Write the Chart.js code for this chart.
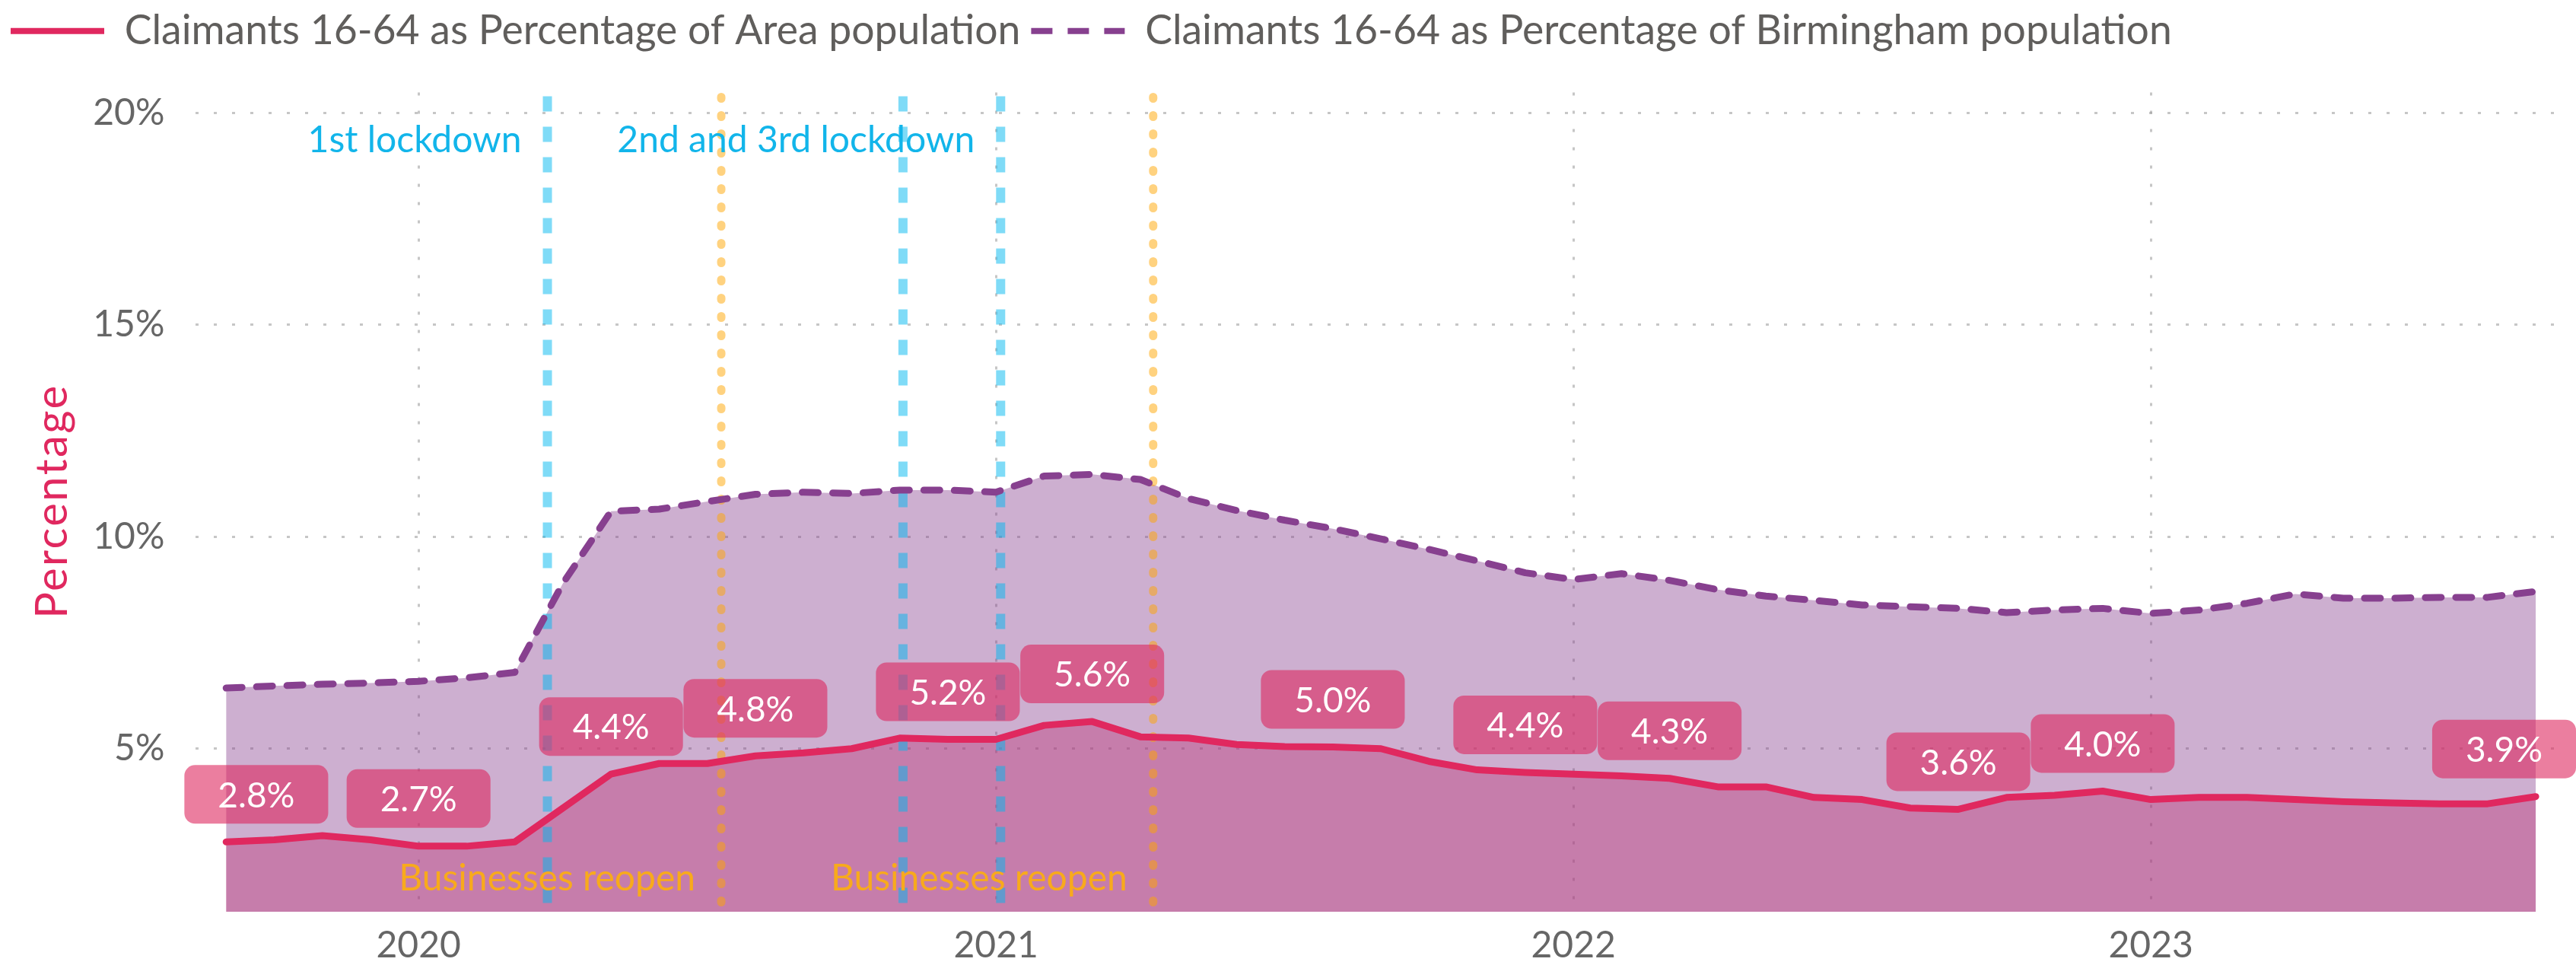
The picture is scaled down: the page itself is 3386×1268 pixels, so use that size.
<!DOCTYPE html>
<html>
<head>
<meta charset="utf-8">
<script src="https://cdn.jsdelivr.net/npm/chart.js@4.4.0/dist/chart.umd.min.js"></script>
<style>
    html, body { margin: 0; padding: 0; background: #fff; }
    #canvas-holder { width: 3386px; height: 1268px; position: relative; }
</style>
</head>
<body>
<div id="canvas-holder"><canvas id="chart-area"></canvas></div>
<script>
var months = [
    '2019-09', '2019-10', '2019-11', '2019-12',
    '2020-01', '2020-02', '2020-03', '2020-04', '2020-05', '2020-06', '2020-07', '2020-08', '2020-09', '2020-10', '2020-11', '2020-12',
    '2021-01', '2021-02', '2021-03', '2021-04', '2021-05', '2021-06', '2021-07', '2021-08', '2021-09', '2021-10', '2021-11', '2021-12',
    '2022-01', '2022-02', '2022-03', '2022-04', '2022-05', '2022-06', '2022-07', '2022-08', '2022-09', '2022-10', '2022-11', '2022-12',
    '2023-01', '2023-02', '2023-03', '2023-04', '2023-05', '2023-06', '2023-07', '2023-08', '2023-09'
];
var areaPct = [
    2.8, 2.85, 2.95, 2.85,
    2.7, 2.7, 2.8, 3.6, 4.4, 4.65, 4.65, 4.83, 4.9, 5.0, 5.25, 5.22,
    5.22, 5.55, 5.64, 5.28, 5.25, 5.1, 5.05, 5.04, 5.0, 4.7, 4.5, 4.44,
    4.4, 4.36, 4.3, 4.1, 4.1, 3.85, 3.8, 3.6, 3.57, 3.85, 3.9, 4.0,
    3.8, 3.85, 3.85, 3.8, 3.75, 3.72, 3.7, 3.7, 3.87
];
var brumPct = [
    6.43, 6.48, 6.52, 6.55,
    6.59, 6.67, 6.8, 8.9, 10.6, 10.65, 10.83, 11.0, 11.05, 11.02, 11.1, 11.1,
    11.05, 11.43, 11.47, 11.35, 10.9, 10.62, 10.39, 10.19, 9.95, 9.7, 9.43, 9.15,
    8.99, 9.13, 8.97, 8.75, 8.6, 8.5, 8.39, 8.35, 8.31, 8.21, 8.27, 8.31,
    8.19, 8.27, 8.43, 8.65, 8.55, 8.55, 8.57, 8.57, 8.71
];
var labelledMonths = ['2019-09', '2020-01', '2020-05', '2020-08', '2020-12', '2021-03', '2021-08', '2021-12', '2022-03', '2022-09', '2022-12', '2023-09'];
var yearTicks = ['2020', '2021', '2022', '2023'];
var pctTicks = [5, 10, 15, 20];
var yTitle = 'Percentage';
var eventDates = ['2020-03-22', '2020-07-10', '2020-11-03', '2021-01-04', '2021-04-09'];
var eventKinds = ['lockdown', 'reopen', 'lockdown', 'lockdown', 'reopen'];
var eventLabels = ['1st lockdown', 'Businesses reopen', '', '2nd and 3rd lockdown', 'Businesses reopen'];

var FONT = 'Lato';
var GRID = 'rgba(160,160,160,0.6)';
Chart.defaults.font.family = FONT;

// fractional position of a date on the month axis
function monthPos(d) {
    var y = +d.slice(0, 4), m = +d.slice(5, 7), day = +d.slice(8, 10);
    var dim = new Date(y, m, 0).getDate();
    return months.indexOf(d.slice(0, 7)) + (day - 1) / dim;
}

var legendGap = {
    id: 'legendGap',
    beforeInit: function (chart) {
        if (!chart.legend) return;
        var fit = chart.legend.fit;
        chart.legend.fit = function () {
            fit.call(this);
            this.height += 44;
        };
    }
};

var eventLines = {
    id: 'eventLines',
    beforeDatasetsDraw: function (chart) {
        var ctx = chart.ctx, area = chart.chartArea, xs = chart.scales.x;
        ctx.save();
        eventDates.forEach(function (d, i) {
            var px = xs.getPixelForValue(monthPos(d));
            ctx.beginPath();
            if (eventKinds[i] == 'lockdown') {
                ctx.strokeStyle = 'rgba(0,184,240,0.5)';
                ctx.lineWidth = 12;
                ctx.lineCap = 'butt';
                ctx.setLineDash([20, 20]);
                ctx.moveTo(px, area.top + 5);
                ctx.lineTo(px, area.bottom - 10);
            } else {
                ctx.strokeStyle = 'rgba(255,165,0,0.5)';
                ctx.lineWidth = 11;
                ctx.lineCap = 'round';
                ctx.setLineDash([2, 22]);
                ctx.moveTo(px, area.top + 6);
                ctx.lineTo(px, area.bottom - 6);
            }
            ctx.stroke();
        });
        ctx.restore();
    },
    afterDatasetsDraw: function (chart) {
        var ctx = chart.ctx, area = chart.chartArea, xs = chart.scales.x;
        ctx.save();
        ctx.font = '48px ' + FONT;
        ctx.textAlign = 'right';
        ctx.textBaseline = 'middle';
        eventDates.forEach(function (d, i) {
            if (!eventLabels[i]) return;
            var px = xs.getPixelForValue(monthPos(d));
            if (eventKinds[i] == 'lockdown') {
                ctx.fillStyle = '#12B5EA';
                ctx.fillText(eventLabels[i], px - 34, area.top + 63);
            } else {
                ctx.fillStyle = '#F8AA1C';
                ctx.fillText(eventLabels[i], px - 34, area.bottom - 44);
            }
        });
        ctx.restore();
    }
};

var valueLabels = {
    id: 'valueLabels',
    afterDatasetsDraw: function (chart) {
        var ctx = chart.ctx, area = chart.chartArea;
        var meta = chart.getDatasetMeta(0);
        ctx.save();
        ctx.font = '46px ' + FONT;
        labelledMonths.forEach(function (m) {
            var i = months.indexOf(m);
            var pt = meta.data[i];
            var txt = areaPct[i].toFixed(1) + '%';
            var w = ctx.measureText(txt).width + 88, h = 77;
            var cx = Math.max(pt.x, area.left - 15 + w / 2);
            cx = Math.min(cx, chart.width - w / 2);
            var bottom = pt.y - 24;
            ctx.fillStyle = 'rgba(222,40,95,0.6)';
            ctx.beginPath();
            ctx.roundRect(cx - w / 2, bottom - h, w, h, 14);
            ctx.fill();
            ctx.fillStyle = '#fff';
            ctx.textAlign = 'center';
            ctx.textBaseline = 'middle';
            ctx.fillText(txt, cx, bottom - h / 2 + 2);
        });
        ctx.restore();
    }
};

// y title drawn by hand so it can be letter-spaced like the original
var axisTitle = {
    id: 'axisTitle',
    afterDraw: function (chart) {
        var ctx = chart.ctx, area = chart.chartArea;
        ctx.save();
        ctx.translate(88, (area.top + area.bottom) / 2);
        ctx.rotate(-Math.PI / 2);
        ctx.font = '58px ' + FONT;
        ctx.letterSpacing = '2.5px';
        ctx.fillStyle = '#E0285F';
        ctx.textAlign = 'center';
        ctx.textBaseline = 'alphabetic';
        ctx.fillText(yTitle, 1.25, 0);
        ctx.restore();
    }
};

var config = {
    type: 'line',
    data: {
        datasets: [{
            label: 'Claimants 16-64 as Percentage of Area population',
            data: areaPct.map(function (v, i) { return {x: i, y: v}; }),
            borderColor: '#E0285F',
            backgroundColor: 'rgba(224,40,95,0.4)',
            borderWidth: 9,
            borderJoinStyle: 'round',
            borderCapStyle: 'round',
            fill: 'start',
            pointRadius: 0,
            tension: 0,
            order: 1
        }, {
            label: 'Claimants 16-64 as Percentage of Birmingham population',
            data: brumPct.map(function (v, i) { return {x: i, y: v}; }),
            borderColor: '#87408F',
            backgroundColor: 'rgba(135,64,143,0.42)',
            borderWidth: 9,
            borderDash: [21, 19],
            borderCapStyle: 'round',
            borderJoinStyle: 'round',
            fill: 'start',
            pointRadius: 0,
            tension: 0,
            order: 0
        }]
    },
    options: {
        responsive: true,
        maintainAspectRatio: false,
        animation: false,
        layout: { padding: { left: 0, right: 20, top: 0, bottom: -21 } },
        plugins: {
            filler: { drawTime: 'beforeDatasetsDraw' },
            tooltip: { enabled: false },
            legend: {
                position: 'top',
                align: 'start',
                labels: {
                    usePointStyle: true,
                    pointStyle: 'line',
                    pointStyleWidth: 123,
                    padding: 14,
                    color: '#605E5C',
                    font: { family: FONT, size: 53.5 },
                    sort: function (a, b) { return a.datasetIndex - b.datasetIndex; },
                    generateLabels: function (chart) {
                        var items = Chart.defaults.plugins.legend.labels.generateLabels(chart);
                        items.forEach(function (it) {
                            it.lineCap = 'butt';
                            it.lineWidth = 8;
                            it.lineDash = it.datasetIndex == 1 ? [28, 20] : [];
                        });
                        return items;
                    }
                }
            }
        },
        scales: {
            x: {
                type: 'linear',
                min: -0.63,
                max: 48.52,
                afterBuildTicks: function (scale) {
                    scale.ticks = yearTicks.map(function (y) { return { value: months.indexOf(y + '-01') }; });
                },
                ticks: {
                    autoSkip: false,
                    maxRotation: 0,
                    padding: 20,
                    color: '#666',
                    font: { size: 48, lineHeight: 1 },
                    callback: function (value, index) { return yearTicks[index]; }
                },
                grid: { color: GRID, lineWidth: 3, drawTicks: false },
                border: { display: false, dash: [4, 20] }
            },
            y: {
                min: 1.15,
                max: 20.48,
                afterBuildTicks: function (scale) {
                    scale.ticks = pctTicks.map(function (v) { return { value: v }; });
                },
                ticks: {
                    padding: 41,
                    color: '#666',
                    font: { size: 48 },
                    callback: function (value) { return value + '%'; }
                },
                grid: { color: GRID, lineWidth: 3, drawTicks: false },
                border: { display: false, dash: [4, 20] },
                // keeps the room for the hand-drawn title
                title: {
                    display: true,
                    text: yTitle,
                    color: 'rgba(0,0,0,0)',
                    font: { size: 56 },
                    padding: { top: 34, bottom: -20 }
                }
            }
        }
    },
    plugins: [legendGap, eventLines, valueLabels, axisTitle]
};

var ctx = document.getElementById('chart-area').getContext('2d');
window.myLine = new Chart(ctx, config);
</script>
</body>
</html>
